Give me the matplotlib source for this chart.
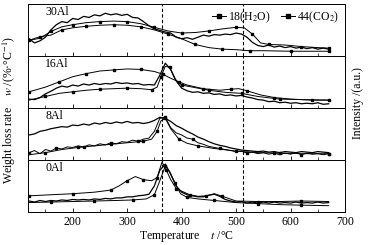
import matplotlib.pyplot as plt
import numpy as np

plt.rcParams['font.family'] = 'Liberation Serif'
plt.rcParams['mathtext.fontset'] = 'stix'

panels = ['30Al', '16Al', '8Al', '0Al']

# temperature grid of the noisy curves (every 10 C)
t_grid = np.arange(120, 680, 10)

# ---- 30Al ----
dtg_30 = [0.33, 0.25, 0.29, 0.36, 0.50, 0.60, 0.66, 0.64, 0.72, 0.70, 0.76, 0.74, 0.79, 0.77,
          0.82, 0.79, 0.81, 0.78, 0.80, 0.74, 0.73, 0.66, 0.58, 0.52, 0.49, 0.46, 0.44, 0.36,
          0.33, 0.35, 0.32, 0.36, 0.40, 0.38, 0.41, 0.40, 0.42, 0.41, 0.44, 0.42, 0.36, 0.26,
          0.20, 0.18, 0.21, 0.17, 0.19, 0.16, 0.18, 0.15, 0.17, 0.14, 0.16, 0.13, 0.15, 0.13]
t_h2o_30 = [120, 140, 160, 180, 200, 225, 250, 275, 300, 325, 350, 375, 400, 425, 450, 475,
            500, 515, 530, 545, 560, 590, 620, 650, 670]
h2o_30 = [0.30, 0.34, 0.47, 0.56, 0.60, 0.64, 0.66, 0.67, 0.66, 0.62, 0.55, 0.48, 0.44, 0.45,
          0.48, 0.52, 0.55, 0.54, 0.42, 0.25, 0.22, 0.21, 0.18, 0.16, 0.15]
t_co2_30 = [120, 140, 160, 180, 200, 225, 250, 275, 300, 325, 350, 375, 400, 425, 450, 475,
            500, 525, 550, 600, 650, 670]
co2_30 = [0.30, 0.37, 0.40, 0.50, 0.54, 0.57, 0.59, 0.60, 0.59, 0.56, 0.50, 0.42, 0.33, 0.22,
          0.16, 0.13, 0.12, 0.10, 0.10, 0.09, 0.09, 0.09]

# ---- 16Al ----
dtg_16 = [0.17, 0.16, 0.20, 0.27, 0.32, 0.38, 0.42, 0.40, 0.44, 0.42, 0.46, 0.44, 0.47, 0.45,
          0.47, 0.46, 0.49, 0.47, 0.48, 0.46, 0.47, 0.44, 0.45, 0.44, 0.63, 0.86, 0.74, 0.52,
          0.38, 0.33, 0.30, 0.31, 0.28, 0.29, 0.26, 0.27, 0.24, 0.25, 0.23, 0.24, 0.21, 0.19,
          0.16, 0.15, 0.12, 0.13, 0.10, 0.11, 0.09, 0.10, 0.08, 0.09, 0.08, 0.10, 0.07, 0.08]
t_h2o_16 = [120, 150, 175, 200, 225, 250, 275, 300, 325, 350, 365, 380, 395, 410, 440, 470,
            490, 505, 520, 545, 570, 600, 640, 670]
h2o_16 = [0.31, 0.40, 0.50, 0.60, 0.66, 0.71, 0.73, 0.75, 0.74, 0.70, 0.65, 0.57, 0.50, 0.44,
          0.37, 0.34, 0.36, 0.37, 0.33, 0.25, 0.20, 0.17, 0.15, 0.15]
t_co2_16 = [120, 150, 175, 200, 225, 250, 275, 300, 325, 345, 355, 362, 370, 378, 388, 400,
            420, 450, 480, 510, 540, 580, 620, 670]
co2_16 = [0.15, 0.22, 0.28, 0.31, 0.34, 0.36, 0.37, 0.38, 0.37, 0.35, 0.40, 0.60, 0.80, 0.78,
          0.55, 0.44, 0.40, 0.34, 0.30, 0.28, 0.22, 0.17, 0.16, 0.15]

# ---- 8Al ----
dtg_8 = [0.48, 0.50, 0.55, 0.57, 0.60, 0.62, 0.64, 0.63, 0.67, 0.66, 0.69, 0.67, 0.71, 0.69,
         0.72, 0.70, 0.73, 0.71, 0.74, 0.71, 0.72, 0.70, 0.72, 0.76, 0.82, 0.80, 0.74, 0.66,
         0.61, 0.55, 0.50, 0.44, 0.40, 0.35, 0.31, 0.28, 0.26, 0.23, 0.21, 0.19, 0.18, 0.17,
         0.16, 0.17, 0.15, 0.16, 0.14, 0.16, 0.15, 0.14, 0.16, 0.15, 0.14, 0.16, 0.15, 0.14]
h2o_8 = [0.14, 0.18, 0.12, 0.20, 0.17, 0.23, 0.21, 0.25, 0.24, 0.27, 0.25, 0.29, 0.27, 0.31,
         0.29, 0.33, 0.31, 0.35, 0.34, 0.38, 0.36, 0.40, 0.42, 0.55, 0.80, 0.82, 0.62, 0.52,
         0.48, 0.42, 0.40, 0.33, 0.30, 0.26, 0.24, 0.22, 0.20, 0.18, 0.16, 0.17, 0.13, 0.15,
         0.12, 0.14, 0.11, 0.13, 0.10, 0.13, 0.11, 0.14, 0.10, 0.13, 0.11, 0.12, 0.10, 0.12]
t_co2_8 = [120, 150, 180, 210, 240, 270, 300, 330, 345, 355, 362, 370, 380, 395, 410, 430,
           460, 500, 540, 580, 620, 670]
co2_8 = [0.10, 0.14, 0.20, 0.24, 0.27, 0.30, 0.33, 0.36, 0.40, 0.55, 0.75, 0.80, 0.60, 0.40,
         0.32, 0.27, 0.22, 0.17, 0.14, 0.13, 0.12, 0.12]

# ---- 0Al ----
dtg_0 = [0.21, 0.19, 0.22, 0.20, 0.22, 0.21, 0.23, 0.22, 0.24, 0.23, 0.24, 0.23, 0.25, 0.24,
         0.26, 0.25, 0.27, 0.27, 0.29, 0.29, 0.31, 0.32, 0.34, 0.50, 0.80, 0.92, 0.72, 0.50,
         0.38, 0.33, 0.31, 0.29, 0.29, 0.32, 0.34, 0.30, 0.24, 0.21, 0.19, 0.20, 0.17, 0.19,
         0.17, 0.19, 0.17, 0.19, 0.17, 0.18, 0.17, 0.19, 0.17, 0.18, 0.17, 0.19, 0.17, 0.18]
t_h2o_0 = [120, 160, 200, 240, 270, 285, 300, 315, 330, 345, 355, 364, 372, 380, 390, 400,
           415, 430, 445, 460, 475, 500, 540, 580, 620, 670]
h2o_0 = [0.31, 0.33, 0.35, 0.38, 0.42, 0.50, 0.60, 0.68, 0.62, 0.60, 0.66, 0.96, 0.80, 0.62,
         0.45, 0.40, 0.33, 0.30, 0.31, 0.35, 0.30, 0.21, 0.20, 0.20, 0.21, 0.20]
t_co2_0 = [120, 160, 200, 240, 280, 310, 335, 350, 360, 370, 378, 388, 398, 410, 430, 460,
           500, 540, 580, 620, 670]
co2_0 = [0.18, 0.19, 0.20, 0.21, 0.22, 0.23, 0.25, 0.33, 0.60, 0.88, 0.78, 0.55, 0.35, 0.28,
         0.25, 0.22, 0.18, 0.16, 0.14, 0.13, 0.12]

dtg = [dtg_30, dtg_16, dtg_8, dtg_0]
h2o = [(t_h2o_30, h2o_30), (t_h2o_16, h2o_16), (t_grid, h2o_8), (t_h2o_0, h2o_0)]
co2 = [(t_co2_30, co2_30), (t_co2_16, co2_16), (t_co2_8, co2_8), (t_co2_0, co2_0)]
peaks = [364, 512]

fig, axes = plt.subplots(4, 1, sharex=True, figsize=(3.71, 2.45), dpi=100)
fig.subplots_adjust(left=0.0755, right=0.93, top=0.984, bottom=0.135, hspace=0)

for i, ax in enumerate(axes):
    ax.plot(t_grid, dtg[i], color='black', lw=0.9)
    th, vh = h2o[i]
    me_h = 5 if len(th) > 40 else 2
    ax.plot(th, vh, color='black', lw=0.7, marker='s', ms=1.7, markevery=me_h,
            label='18(H$_2$O)')
    tc, vc = co2[i]
    ax.plot(tc, vc, color='black', lw=0.7, marker='s', ms=1.7, markevery=(1, 2),
            label='44(CO$_2$)')
    for p in peaks:
        ax.axvline(p, color='black', ls=(0, (3, 2)), lw=0.8)
    ax.set_ylim(0, 1)
    ax.set_xlim(118, 700)
    ax.set_yticks([])
    ax.text(0.055, 0.84, panels[i], transform=ax.transAxes, fontsize=8.5,
            va='center', ha='left')
    ax.set_xticks([200, 300, 400, 500, 600, 700])
    ax.set_xticks(np.arange(150, 700, 100), minor=True)
    ax.tick_params(axis='x', direction='in', length=3, width=0.6, labelsize=8.5, pad=3)
    ax.tick_params(axis='x', which='minor', direction='in', length=2, width=0.5)
    for s in ax.spines.values():
        s.set_linewidth(0.7)

axes[0].legend(loc='upper right', ncol=2, frameon=False, fontsize=8.5,
               handlelength=1.2, handletextpad=0.2, columnspacing=0.8,
               borderaxespad=0.1, markerscale=1.3)

axes[-1].set_xlabel('Temperature    $t$ /°C', fontsize=8.5, labelpad=1)
fig.text(0.025, 0.55, 'Weight loss rate    $w$ /(%·°C$^{-1}$)', rotation=90,
         fontsize=8.5, ha='center', va='center')
fig.text(0.965, 0.58, 'Intensity /(a.u.)', rotation=90, fontsize=8.5,
         ha='center', va='center')

fig.savefig('out.png', dpi=100)
